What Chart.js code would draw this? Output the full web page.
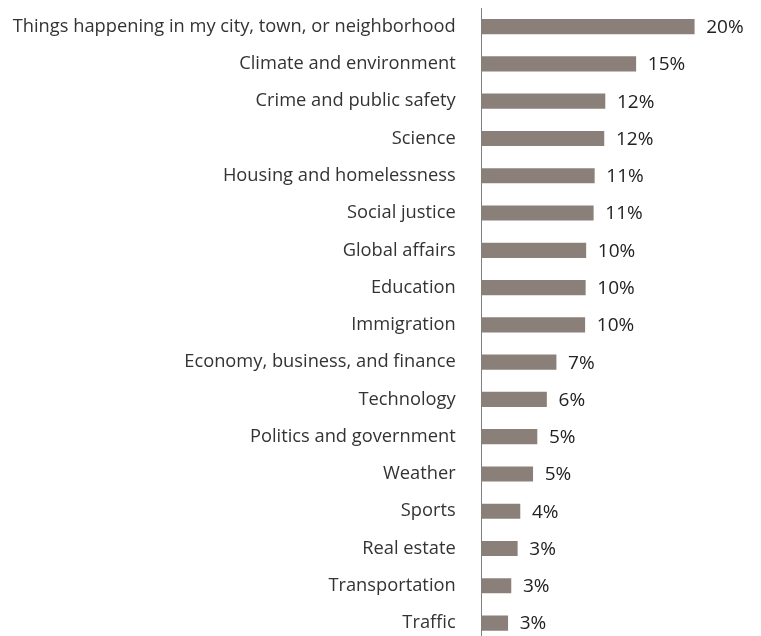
<!DOCTYPE html>
<html>
<head>
<meta charset="utf-8">
<script src="https://cdn.jsdelivr.net/npm/chart.js@4.4.1/dist/chart.umd.min.js"></script>
<style>
  html, body { margin: 0; padding: 0; background: #fff; overflow: hidden; }
  #wrap { position: relative; width: 761px; height: 650px; }
</style>
</head>
<body>
<div id="wrap"><canvas id="chart"></canvas></div>
<script>
const topics = [
  'Things happening in my city, town, or neighborhood',
  'Climate and environment',
  'Crime and public safety',
  'Science',
  'Housing and homelessness',
  'Social justice',
  'Global affairs',
  'Education',
  'Immigration',
  'Economy, business, and finance',
  'Technology',
  'Politics and government',
  'Weather',
  'Sports',
  'Real estate',
  'Transportation',
  'Traffic'
];
const shares = [20.0, 14.5, 11.6, 11.5, 10.6, 10.5, 9.8, 9.75, 9.7, 7.0, 6.1, 5.2, 4.8, 3.6, 3.35, 2.75, 2.45];
const shareLabels = ['20%', '15%', '12%', '12%', '11%', '11%', '10%', '10%', '10%', '7%', '6%', '5%', '5%', '4%', '3%', '3%', '3%'];

const FONT = '"Open Sans", Lato, sans-serif';

// value labels at the end of each bar
const valueLabels = {
  id: 'valueLabels',
  afterDatasetsDraw(chart) {
    const ctx = chart.ctx;
    const meta = chart.getDatasetMeta(0);
    ctx.save();
    ctx.font = '19px ' + FONT;
    ctx.fillStyle = '#222';
    ctx.textBaseline = 'middle';
    ctx.textAlign = 'left';
    meta.data.forEach((bar, i) => {
      ctx.fillText(shareLabels[i], bar.x + 12, bar.y + 1);
    });
    ctx.restore();
  }
};

new Chart(document.getElementById('chart'), {
  type: 'bar',
  data: {
    labels: topics,
    datasets: [{
      data: shares,
      backgroundColor: '#8b8079',
      barThickness: 14.5
    }]
  },
  options: {
    indexAxis: 'y',
    responsive: true,
    maintainAspectRatio: false,
    animation: false,
    layout: { padding: { top: 8, bottom: 8.3, left: 0, right: 3 } },
    plugins: {
      legend: { display: false },
      tooltip: { enabled: false }
    },
    scales: {
      x: {
        display: false,
        min: 0,
        max: 26
      },
      y: {
        afterFit(scale) {
          scale.width = 481.7;
          // tick padding would otherwise push the plot down
          scale.paddingTop = 0;
          scale.paddingBottom = 0;
        },
        grid: { display: false, drawTicks: false },
        border: { display: true, color: '#808080', width: 1 },
        ticks: {
          padding: 26,
          color: '#333',
          font: { family: FONT, size: 18.3 }
        }
      }
    }
  },
  plugins: [valueLabels]
});
</script>
</body>
</html>
